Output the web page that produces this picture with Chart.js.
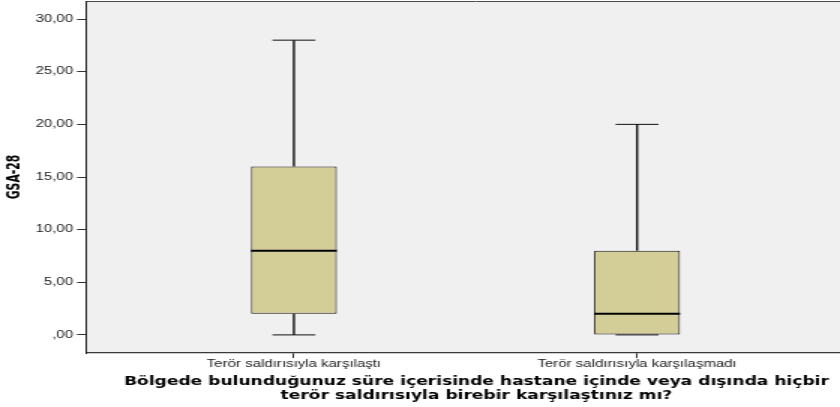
<!DOCTYPE html>
<html>
<head>
<meta charset="utf-8">
<script src="https://cdn.jsdelivr.net/npm/chart.js@4.4.1/dist/chart.umd.min.js"></script>
<style>
  html, body { margin: 0; padding: 0; background: #ffffff; }
  #wrap { width: 840px; height: 407px; overflow: hidden; }
  canvas { display: block; }
</style>
</head>
<body>
<div id="wrap">
  <!-- drawn on a narrower bitmap and widened by CSS, giving the wide lettering;
       the plot runs a little past the right edge of the frame -->
  <canvas id="gsa" width="578" height="407" style="width:867px;height:407px"></canvas>
</div>
<script>
// GSA-28 scores by whether the respondent faced a terror attack
const categories = ['Terör saldırısıyla karşılaştı', 'Terör saldırısıyla karşılaşmadı'];
const minValues    = [0, 0];
const q1Values     = [2, 0];
const medianValues = [8, 2];
const q3Values     = [16, 8];
const maxValues    = [28, 20];

const yTickValues = [0, 5, 10, 15, 20, 25, 30];
const yTickLabels = [',00', '5,00', '10,00', '15,00', '20,00', '25,00', '30,00'];

const yTitle = 'GSA-28';
const xTitle = [
  'Bölgede bulunduğunuz süre içerisinde hastane içinde veya dışında hiçbir',
  'terör saldırısıyla birebir karşılaştınız mı?'
];

const BOX_FILL = '#d3ce97';
const INK = '#111111';
const PLOT_BG = '#f0f0f0';

// Plot background and the frame line along the top
const plotFrame = {
  id: 'plotFrame',
  beforeDraw(chart) {
    const { ctx, chartArea: a } = chart;
    ctx.save();
    ctx.fillStyle = PLOT_BG;
    ctx.fillRect(a.left, a.top, a.right - a.left, a.bottom - a.top);
    ctx.strokeStyle = '#4a4a4a';
    ctx.lineWidth = 1;
    ctx.beginPath();
    ctx.moveTo(a.left, a.top + 0.5);
    ctx.lineTo(a.right, a.top + 0.5);
    ctx.stroke();
    ctx.restore();
  }
};

// Whiskers, caps and medians placed with the chart's own scales
const boxParts = {
  id: 'boxParts',
  beforeDatasetsDraw(chart) {
    const { ctx } = chart;
    const xs = chart.scales.x, ys = chart.scales.y;
    const bars = chart.getDatasetMeta(0).data;
    ctx.save();
    ctx.strokeStyle = INK;
    categories.forEach((c, i) => {
      const cx = xs.getPixelForValue(i + 1);
      const half = bars[i].width / 4;
      const yMin = ys.getPixelForValue(minValues[i]);
      const yMax = ys.getPixelForValue(maxValues[i]);
      const yQ1 = ys.getPixelForValue(q1Values[i]);
      const yQ3 = ys.getPixelForValue(q3Values[i]);
      ctx.lineWidth = 1.4;
      ctx.beginPath();
      ctx.moveTo(cx, yQ3); ctx.lineTo(cx, yMax);
      ctx.moveTo(cx, yQ1); ctx.lineTo(cx, yMin);
      ctx.stroke();
      ctx.lineWidth = 1;
      ctx.beginPath();
      ctx.moveTo(cx - half, yMax); ctx.lineTo(cx + half, yMax);
      ctx.moveTo(cx - half, yMin); ctx.lineTo(cx + half, yMin);
      ctx.stroke();
    });
    ctx.restore();
  },
  afterDatasetsDraw(chart) {
    const { ctx } = chart;
    const ys = chart.scales.y;
    const bars = chart.getDatasetMeta(0).data;
    ctx.save();
    ctx.strokeStyle = '#000000';
    ctx.lineWidth = 2;
    categories.forEach((c, i) => {
      const b = bars[i];
      const y = ys.getPixelForValue(medianValues[i]);
      ctx.beginPath();
      ctx.moveTo(b.x - b.width / 2, y);
      ctx.lineTo(b.x + b.width / 2, y);
      ctx.stroke();
    });
    ctx.restore();
  }
};

new Chart(document.getElementById('gsa'), {
  type: 'bar',
  data: {
    datasets: [{
      data: categories.map((c, i) => ({ x: i + 1, y: [q1Values[i], q3Values[i]] })),
      backgroundColor: BOX_FILL,
      borderColor: INK,
      borderWidth: 1,
      borderSkipped: false,
      barPercentage: 0.5,
      categoryPercentage: 0.5
    }]
  },
  options: {
    responsive: false,
    devicePixelRatio: 1,
    animation: false,
    layout: { padding: { top: 1, right: 0, bottom: 0, left: 0 } },
    plugins: {
      legend: { display: false },
      tooltip: { enabled: false }
    },
    scales: {
      x: {
        type: 'linear',
        offset: false,
        min: 0.394,
        max: 2.67,
        afterBuildTicks(scale) {
          scale.ticks = categories.map((c, i) => ({ value: i + 1 }));
        },
        afterFit(scale) {
          scale.height = 54;
          scale.paddingLeft = 0;
          scale.paddingRight = 0;
        },
        ticks: {
          autoSkip: false,
          maxRotation: 0,
          padding: 0.5,
          color: '#1a1a1a',
          font: { family: '"Liberation Sans", Arial, sans-serif', size: 10 },
          callback: (v) => categories[Math.round(v) - 1] || ''
        },
        grid: {
          offset: false,
          drawOnChartArea: false,
          drawTicks: true,
          tickLength: 5,
          color: '#333333',
          lineWidth: 1
        },
        border: { display: true, color: '#3a3a3a', width: 1.2 },
        title: {
          display: true,
          text: xTitle,
          color: '#000000',
          padding: { top: 2, bottom: 4 },
          font: { family: '"DejaVu Sans", Verdana, sans-serif', size: 11.4, weight: 'bold', lineHeight: 14 / 11.4 }
        }
      },
      y: {
        min: -1.72,
        max: 31.72,
        afterBuildTicks(scale) {
          scale.ticks = yTickValues.map(v => ({ value: v }));
        },
        afterFit(scale) {
          scale.width = 57.3;
          scale.paddingTop = 0;
          scale.paddingBottom = 0;
        },
        ticks: {
          padding: 2.6,
          color: '#1a1a1a',
          font: { family: '"Liberation Sans", Arial, sans-serif', size: 10 },
          callback: (v, i) => yTickLabels[i]
        },
        grid: {
          drawOnChartArea: false,
          drawTicks: true,
          tickLength: 6,
          color: '#333333',
          lineWidth: 1
        },
        border: { display: true, color: '#222222', width: 1 },
        title: {
          display: true,
          text: yTitle,
          color: '#000000',
          padding: { top: 2.5, bottom: 0 },
          font: { family: '"Liberation Sans Narrow", "DejaVu Sans Condensed", sans-serif', size: 12, weight: 'bold', lineHeight: 1.2 }
        }
      }
    }
  },
  plugins: [plotFrame, boxParts]
});
</script>
</body>
</html>
